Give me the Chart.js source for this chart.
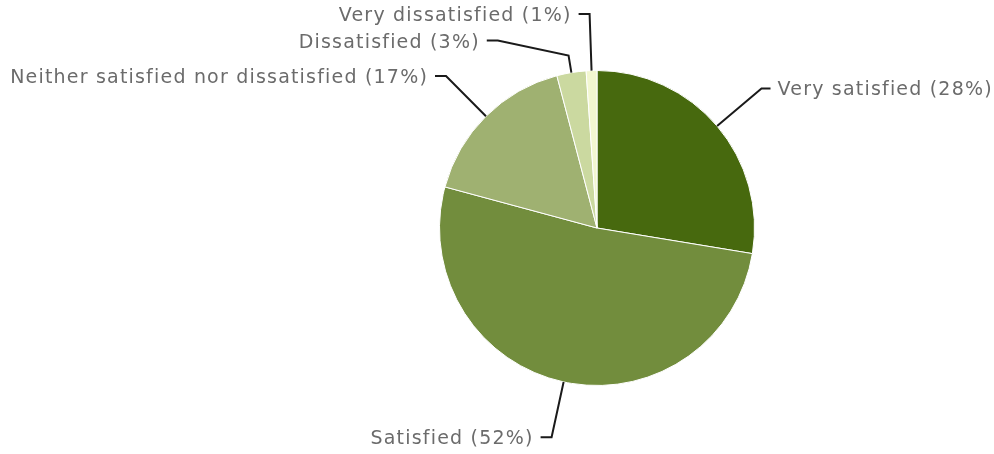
<!DOCTYPE html>
<html>
<head>
<meta charset="utf-8">
<script src="https://cdn.jsdelivr.net/npm/chart.js@4/dist/chart.umd.min.js"></script>
<style>
  html, body { margin: 0; padding: 0; background: #fff; }
  #wrap { width: 994px; height: 454px; }
</style>
</head>
<body>
<div id="wrap"><canvas id="pie"></canvas></div>
<script>
const categories = ['Very satisfied', 'Satisfied', 'Neither satisfied nor dissatisfied', 'Dissatisfied', 'Very dissatisfied'];
const shares = [27.6, 51.6, 16.7, 3.0, 1.1];
const colors = ['#47690e', '#728d3d', '#9fb171', '#cbd9a0', '#f2f7d0'];

// where the leader line bends, as a factor of the radius (along the slice's middle)
const kneeAt = [1.37, 1.36, 1.36, 1.11, 1.36];
// crowded labels get moved: offsets from the centre, in radii
const labelMoves = { 3: { x: -0.63, y: -1.19 } };

const total = shares.reduce((a, b) => a + b, 0);

const leaderLabels = {
  id: 'leaderLabels',
  afterDatasetsDraw(chart) {
    const ctx = chart.ctx;
    const arcs = chart.getDatasetMeta(0).data;
    ctx.save();
    ctx.font = '19px "DejaVu Sans"';
    ctx.letterSpacing = '1.2px';
    ctx.textBaseline = 'middle';
    arcs.forEach((arc, i) => {
      const { x: cx, y: cy, startAngle, endAngle, outerRadius: r } = arc.getProps(['x', 'y', 'startAngle', 'endAngle', 'outerRadius'], true);
      const mid = (startAngle + endAngle) / 2;
      const sx = cx + Math.cos(mid) * r;
      const sy = cy + Math.sin(mid) * r;
      const kx = cx + Math.cos(mid) * r * kneeAt[i];
      const ky = cy + Math.sin(mid) * r * kneeAt[i];
      const right = Math.cos(mid) > 0.05;
      let ex = kx, ey = ky;
      if (labelMoves[i]) {
        ex = cx + labelMoves[i].x * r;
        ey = cy + labelMoves[i].y * r;
      }
      const fx = ex + (right ? 9 : -11);

      ctx.beginPath();
      ctx.moveTo(sx, sy);
      ctx.lineTo(kx, ky);
      ctx.lineTo(ex, ey);
      ctx.lineTo(fx, ey);
      ctx.strokeStyle = '#1a1a1a';
      ctx.lineWidth = 2;
      ctx.stroke();

      const pct = Math.round(shares[i] / total * 100);
      ctx.fillStyle = '#6b6b6b';
      ctx.textAlign = right ? 'left' : 'right';
      ctx.fillText(categories[i] + ' (' + pct + '%)', fx + (right ? 7 : -7), ey + 2);
    });
    ctx.restore();
  }
};

new Chart(document.getElementById('pie'), {
  type: 'pie',
  data: {
    labels: categories,
    datasets: [{
      data: shares,
      backgroundColor: colors,
      borderColor: '#ffffff',
      borderWidth: 1
    }]
  },
  options: {
    responsive: true,
    maintainAspectRatio: false,
    animation: false,
    layout: { padding: { left: 300, right: 100, top: 70, bottom: 68 } },
    plugins: {
      legend: { display: false },
      tooltip: { enabled: false }
    }
  },
  plugins: [leaderLabels]
});
</script>
</body>
</html>
